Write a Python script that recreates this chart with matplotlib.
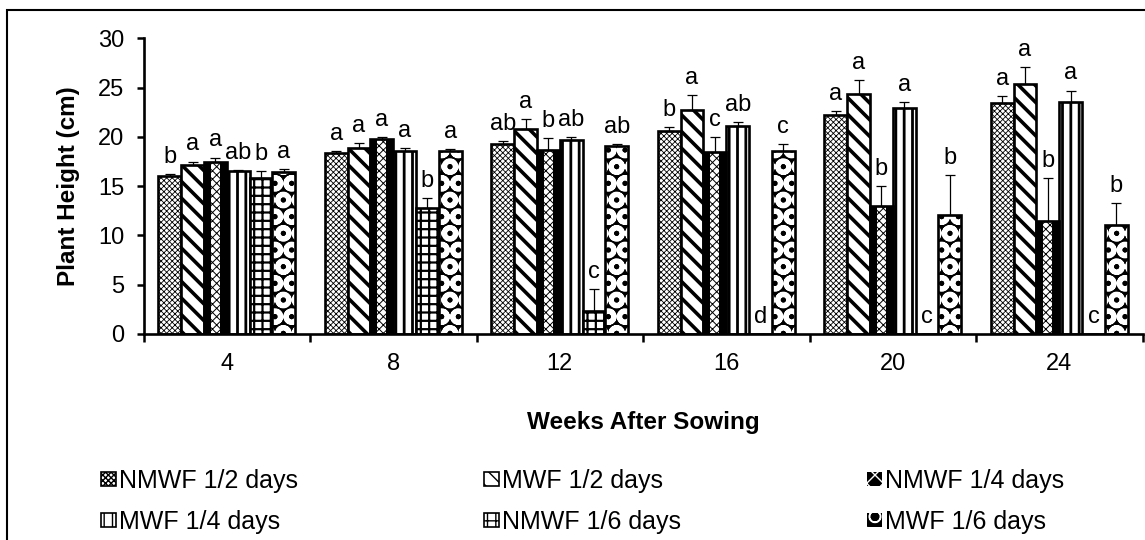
import numpy as np
import matplotlib
matplotlib.use("Agg")
import matplotlib.pyplot as plt
from matplotlib.patches import Patch, Rectangle

plt.rcParams['font.family'] = ['Liberation Sans', 'DejaVu Sans']

# Data
weeks = ['4', '8', '12', '16', '20', '24']
treatments = ['NMWF 1/2 days', 'MWF 1/2 days', 'NMWF 1/4 days',
              'MWF 1/4 days', 'NMWF 1/6 days', 'MWF 1/6 days']

nmwf_2 = [16.0, 18.4, 19.3, 20.6, 22.2, 23.4]
mwf_2 = [17.1, 18.9, 20.8, 22.7, 24.3, 25.4]
nmwf_4 = [17.4, 19.8, 18.7, 18.5, 13.0, 11.5]
mwf_4 = [16.5, 18.6, 19.7, 21.1, 22.9, 23.5]
nmwf_6 = [15.8, 12.8, 2.3, 0.0, 0.0, 0.0]
mwf_6 = [16.4, 18.6, 19.1, 18.6, 12.1, 11.1]

err_nmwf_2 = [0.2, 0.2, 0.3, 0.4, 0.4, 0.7]
err_mwf_2 = [0.4, 0.5, 1.0, 1.5, 1.5, 1.7]
err_nmwf_4 = [0.5, 0.2, 1.2, 1.5, 2.0, 4.3]
err_mwf_4 = [0.1, 0.3, 0.3, 0.4, 0.6, 1.2]
err_nmwf_6 = [0.7, 1.0, 2.3, 0.0, 0.0, 0.0]
err_mwf_6 = [0.3, 0.2, 0.2, 0.7, 4.0, 2.2]

let_nmwf_2 = ['b', 'a', 'ab', 'b', 'a', 'a']
let_mwf_2 = ['a', 'a', 'a', 'a', 'a', 'a']
let_nmwf_4 = ['a', 'a', 'b', 'c', 'b', 'b']
let_mwf_4 = ['ab', 'a', 'ab', 'ab', 'a', 'a']
let_nmwf_6 = ['b', 'b', 'c', 'd', 'c', 'c']
let_mwf_6 = ['a', 'a', 'ab', 'c', 'b', 'b']

values = [nmwf_2, mwf_2, nmwf_4, mwf_4, nmwf_6, mwf_6]
errors = [err_nmwf_2, err_mwf_2, err_nmwf_4, err_mwf_4, err_nmwf_6, err_mwf_6]
letters = [let_nmwf_2, let_mwf_2, let_nmwf_4, let_mwf_4, let_nmwf_6, let_mwf_6]

# Fill styles: (face, hatch, hatch linewidth)
styles = [
    ('white', 'xxxxxx', 0.6),
    ('white', '\\\\', 2.6),
    ('strip', 'xxxx', 0.7),
    ('white', '||', 2.0),
    ('white', '++', 1.6),
    ('black', 'O', 3.6),
]


def set_hlw(patches, lw):
    for p in patches:
        if hasattr(p, 'set_hatch_linewidth'):
            p.set_hatch_linewidth(lw)


fig = plt.figure(figsize=(11.45, 5.4), dpi=100)
ax = fig.add_axes([143.5 / 1145, 1 - 334 / 540, 999 / 1145, (334 - 38.3) / 540])

x = np.arange(len(weeks))
w = 0.137
handles = []
for i, (vals, errs, lets, st) in enumerate(zip(values, errors, letters, styles)):
    face, hatch, hlw = st
    pos = x + (i - 2.5) * w
    with plt.rc_context({'hatch.linewidth': hlw}):
        if face == 'white':
            b = ax.bar(pos, vals, w, color='white', edgecolor='black',
                       hatch=hatch, linewidth=1.9, zorder=2)
            set_hlw(b.patches, hlw)
            h = Patch(facecolor='white', edgecolor='black', hatch=hatch, linewidth=1.2)
        elif face == 'strip':
            ax.bar(pos, vals, w, color='black', linewidth=0, zorder=2)
            b = ax.bar(pos, vals, w * 0.4, color='white', edgecolor='black',
                       hatch=hatch, linewidth=0, zorder=2.5)
            set_hlw(b.patches, hlw)
            ax.bar(pos, vals, w, fill=False, edgecolor='black', linewidth=1.9, zorder=3)
            h = Patch(facecolor='black', edgecolor='white', hatch='xx', linewidth=0)
        else:
            b = ax.bar(pos, vals, w, color='black', edgecolor='white',
                       hatch=hatch, linewidth=0, zorder=2)
            set_hlw(b.patches, hlw)
            ax.bar(pos, vals, w, fill=False, edgecolor='black', linewidth=1.9, zorder=3)
            h = Patch(facecolor='black', edgecolor='white', hatch=hatch, linewidth=0)
        if hasattr(h, 'set_hatch_linewidth'):
            h.set_hatch_linewidth(min(hlw, 1.2))
    handles.append(h)
    ax.errorbar(pos, vals, yerr=[np.zeros(len(errs)), errs], fmt='none',
                ecolor='black', elinewidth=0.9, capsize=3.6, capthick=0.9, zorder=4)
    for px, v, e, t in zip(pos, vals, errs, lets):
        ax.annotate(t, (px, v + e), xytext=(0, 8), textcoords='offset points',
                    ha='center', va='baseline', fontsize=17)

ax.set_xlim(-0.5, len(weeks) - 0.5)
ax.set_ylim(0, 30)
ax.set_yticks(np.arange(0, 31, 5))
ax.set_xticks(np.arange(-0.5, len(weeks), 1.0))
ax.set_xticklabels([])
ax.set_xticks(x, minor=True)
ax.set_xticklabels(weeks, minor=True)
ax.tick_params(axis='x', which='major', direction='out', length=6, width=1.8)
ax.tick_params(axis='x', which='minor', length=0, pad=14, labelsize=17)
ax.tick_params(axis='y', direction='out', length=5, width=1.8, labelsize=17, pad=9)

for s in ['top', 'right']:
    ax.spines[s].set_visible(False)
for s in ['left', 'bottom']:
    ax.spines[s].set_linewidth(1.9)

ax.set_ylabel('Plant Height (cm)', fontsize=17.5, fontweight='bold')
ax.yaxis.set_label_coords(-0.0636, 0.5)
ax.set_xlabel('Weeks After Sowing', fontsize=17.5, fontweight='bold')
ax.xaxis.set_label_coords(0.5, -0.262)

order = [0, 3, 1, 4, 2, 5]
fig.legend([handles[k] for k in order], [treatments[k] for k in order],
           loc='upper left', bbox_to_anchor=(101 / 1145, 1 - 469 / 540, 963 / 1145, 0),
           bbox_transform=fig.transFigure, ncol=3, mode='expand', frameon=False,
           fontsize=18, handlelength=0.6, handleheight=0.48, handletextpad=0.12,
           labelspacing=0.68, borderaxespad=0, borderpad=0)

# outer frame
fig.patches.append(Rectangle((7 / 1145, -0.1), 2, 1 - 10 / 540 + 0.1, fill=False,
                             edgecolor='black', linewidth=1.5,
                             transform=fig.transFigure, figure=fig))

fig.savefig('out.png', dpi=100)
